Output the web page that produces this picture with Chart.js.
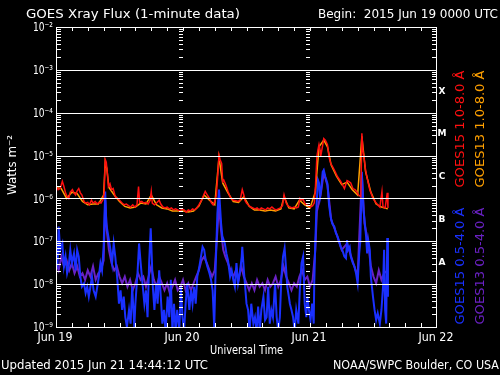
<!DOCTYPE html>
<html>
<head>
<meta charset="utf-8">
<title>GOES Xray Flux</title>
<script src="https://cdn.jsdelivr.net/npm/chart.js@4.4.1/dist/chart.umd.min.js"></script>
<style>
    html, body { margin: 0; padding: 0; background: #000; }
    canvas { display: block; }
</style>
</head>
<body>
<canvas id="xray" width="500" height="375"></canvas>
<script>
/* Flux readings, [hours since 2015 Jun 19 00:00 UTC, W/m^2] */
const goes15Long = [
    [0, 2.0e-6], [0.4, 1.6e-6], [0.8, 1.7e-6], [1.2, 2.5e-6], [1.5, 1.9e-6], [1.8, 1.35e-6], [2.1, 1.1e-6],
    [2.4, 1.0e-6], [2.7, 1.4e-6], [3.1, 1.6e-6], [3.4, 1.35e-6], [3.7, 1.2e-6], [4.0, 1.5e-6], [4.3, 1.7e-6],
    [4.6, 1.35e-6], [4.9, 1.2e-6], [5.3, 8.5e-7], [5.6, 7.8e-7], [6.0, 8.1e-7], [6.3, 7.1e-7], [6.7, 9.1e-7],
    [7.0, 7.8e-7], [7.4, 8.5e-7], [7.8, 7.4e-7], [8.1, 8.1e-7], [8.5, 7.8e-7], [8.9, 9.5e-7], [9.1, 1.4e-6],
    [9.3, 8.1e-6], [9.5, 7.0e-6], [9.7, 3.9e-6], [9.9, 1.9e-6], [10.2, 2.2e-6], [10.5, 1.6e-6], [10.8, 1.7e-6],
    [11.2, 1.1e-6], [11.6, 1.0e-6], [12.0, 9.1e-7], [12.5, 7.8e-7], [12.9, 7.1e-7], [13.3, 7.4e-7], [13.7, 6.8e-7],
    [14.1, 6.3e-7], [14.5, 7.1e-7], [14.9, 6.3e-7], [15.3, 7.1e-7], [15.6, 1.9e-6], [15.8, 8.1e-7], [16.2, 8.5e-7],
    [16.6, 7.8e-7], [17.0, 8.1e-7], [17.4, 7.4e-7], [17.8, 9.1e-7], [18.0, 1.45e-6], [18.2, 7.8e-7], [18.6, 7.1e-7],
    [19.0, 7.8e-7], [19.5, 9.1e-7], [19.8, 7.4e-7], [20.2, 6.3e-7], [20.6, 6.0e-7], [21.0, 6.3e-7], [21.4, 5.7e-7],
    [21.8, 6.0e-7], [22.2, 5.4e-7], [22.6, 5.7e-7], [23.0, 5.4e-7], [23.4, 5.1e-7], [23.8, 5.7e-7], [24.2, 5.4e-7],
    [24.6, 4.8e-7], [25.0, 5.4e-7], [25.4, 5.1e-7], [25.8, 5.7e-7], [26.2, 5.4e-7], [26.6, 6.0e-7], [27.0, 7.1e-7],
    [27.5, 9.1e-7], [28.2, 1.45e-6], [28.6, 1.2e-6], [29.0, 1.0e-6], [29.4, 7.8e-7], [29.7, 7.1e-7], [30.1, 9.1e-7],
    [30.3, 1.2e-6], [30.6, 3.9e-6], [30.8, 1.02e-5], [31.0, 8.1e-6], [31.3, 6.6e-6], [31.5, 2.5e-6], [31.7, 2.7e-6],
    [32.0, 2.2e-6], [32.2, 1.9e-6], [32.5, 1.45e-6], [32.9, 1.1e-6], [33.2, 9.6e-7], [33.5, 9.1e-7], [34.0, 8.8e-7],
    [34.4, 8.5e-7], [34.8, 9.1e-7], [35.2, 1.6e-6], [35.5, 1.2e-6], [35.7, 9.1e-7], [36.0, 7.8e-7], [36.3, 7.1e-7],
    [36.8, 6.3e-7], [37.2, 6.0e-7], [37.6, 5.7e-7], [38.0, 6.0e-7], [38.4, 5.4e-7], [38.8, 6.0e-7], [39.2, 5.7e-7],
    [39.6, 5.4e-7], [40.0, 6.0e-7], [40.4, 5.7e-7], [40.8, 6.3e-7], [41.2, 5.7e-7], [41.6, 5.4e-7], [42.0, 5.7e-7],
    [42.4, 6.0e-7], [42.8, 6.8e-7], [43.1, 1.2e-6], [43.5, 7.8e-7], [43.8, 6.8e-7], [44.2, 6.3e-7], [44.6, 6.0e-7],
    [45.0, 6.3e-7], [45.4, 6.0e-7], [45.8, 6.3e-7], [46.1, 1.0e-6], [46.4, 9.1e-7], [46.7, 9.5e-7], [47.0, 7.8e-7],
    [47.3, 7.1e-7], [47.7, 6.8e-7], [48.1, 6.3e-7], [48.5, 6.8e-7], [48.8, 7.8e-7], [49.0, 1.6e-6], [49.3, 9.3e-6],
    [49.5, 1.35e-5], [49.7, 1.8e-5], [49.9, 1.35e-5], [50.0, 9.3e-6], [50.3, 1.5e-5], [50.6, 2.5e-5], [50.9, 2.3e-5],
    [51.3, 1.8e-5], [51.6, 9.3e-6], [51.9, 6.6e-6], [52.2, 5.7e-6], [52.6, 4.6e-6], [53.2, 3.2e-6], [53.8, 2.5e-6],
    [54.2, 2.0e-6], [54.5, 1.7e-6], [55.0, 2.6e-6], [55.3, 2.5e-6], [55.7, 2.3e-6], [56.1, 1.7e-6], [56.5, 1.6e-6],
    [56.8, 1.45e-6], [57.2, 1.2e-6], [57.6, 1.1e-6], [57.8, 3.3e-5], [58.0, 1.3e-5], [58.2, 9.3e-6], [58.5, 4.6e-6],
    [58.8, 3.0e-6], [59.3, 1.6e-6], [59.9, 1.0e-6], [60.5, 7.8e-7], [61.2, 6.3e-7], [61.6, 1.45e-6], [61.8, 6.3e-7],
    [62.2, 6.0e-7], [62.6, 1.35e-6], [62.73, 6.0e-7],
];

const goes13Long = [
    [0, 1.8e-6], [1, 1.7e-6], [2, 1.0e-6], [3, 1.4e-6], [4, 1.3e-6], [5, 8.5e-7], [6, 7.1e-7], [7, 7.4e-7],
    [8, 7.4e-7], [9, 1.2e-6], [9.3, 7.0e-6], [9.6, 5.0e-6], [10, 1.8e-6], [11, 1.2e-6], [12, 8.5e-7], [13, 6.5e-7],
    [14, 6.0e-7], [15, 6.3e-7], [16, 7.8e-7], [17, 7.4e-7], [18, 1.2e-6], [19, 7.1e-7], [20, 6.0e-7], [21, 5.7e-7],
    [22, 5.1e-7], [23, 5.1e-7], [24, 5.1e-7], [25, 4.8e-7], [26, 5.1e-7], [27, 6.6e-7], [28, 1.2e-6], [29, 9.1e-7],
    [30, 7.1e-7], [30.8, 9.0e-6], [31.5, 2.3e-6], [32.5, 1.35e-6], [33.5, 8.5e-7], [34.5, 8.1e-7], [35.5, 1.1e-6],
    [36.5, 6.6e-7], [37.5, 5.4e-7], [38.5, 5.4e-7], [39.5, 5.1e-7], [40.5, 5.4e-7], [41.5, 5.1e-7], [42.5, 5.7e-7],
    [43.1, 1.1e-6], [44, 6.0e-7], [45, 5.7e-7], [46, 9.1e-7], [47, 7.1e-7], [48, 6.0e-7], [49, 1.4e-6],
    [49.7, 1.6e-5], [50.6, 2.3e-5], [51.3, 1.6e-5], [52, 6.0e-6], [53, 3.3e-6], [54, 2.1e-6], [55, 2.4e-6],
    [56, 1.6e-6], [57, 1.2e-6], [57.8, 2.8e-5], [58.5, 4.2e-6], [59.5, 1.4e-6], [60.5, 7.4e-7], [61.5, 6.3e-7],
    [62.7, 5.7e-7],
];

const goes15Short = [
    [0.0, 4.4e-8], [0.3, 3.1e-8], [0.5, 2.2e-7], [0.8, 6.3e-8], [1.2, 8.9e-8], [1.5, 2.6e-8], [1.8, 4.4e-8],
    [2.1, 1.8e-8], [2.4, 2.6e-8], [2.7, 6.3e-8], [3.0, 3.1e-8], [3.4, 5.2e-8], [3.7, 2.1e-8], [4.0, 6.3e-8],
    [4.3, 4.4e-8], [4.6, 1.5e-8], [4.9, 8.7e-9], [5.3, 1.05e-8], [5.6, 6.2e-9], [5.9, 8.7e-9], [6.2, 5.1e-9],
    [6.5, 8.7e-9], [6.8, 1.5e-8], [7.1, 7.2e-9], [7.5, 5.1e-9], [7.8, 8.7e-9], [8.1, 1.5e-8], [8.4, 3.1e-8],
    [8.7, 2.1e-8], [9.0, 7.4e-8], [9.3, 1.45e-6], [9.5, 2.6e-7], [9.7, 1.8e-7], [10.0, 1.07e-7], [10.3, 6.3e-8],
    [10.6, 3.1e-8], [10.9, 8.9e-8], [11.2, 4.4e-8], [11.6, 1.26e-8], [11.9, 3.5e-9], [12.2, 7.2e-9], [12.5, 2.5e-9],
    [12.8, 5.1e-9], [13.1, 1.7e-9], [13.4, 1.0e-9], [13.8, 2.5e-9], [14.1, 1.2e-9], [14.4, 8.7e-9], [14.8, 1.0e-9],
    [15.0, 3.5e-9], [15.4, 1.8e-8], [15.7, 8.9e-8], [16.0, 3.1e-8], [16.4, 8.7e-9], [16.7, 3.5e-9], [17.0, 7.2e-9],
    [17.3, 1.7e-9], [17.6, 3.1e-8], [17.9, 2.0e-7], [18.3, 8.7e-9], [18.6, 2.5e-9], [18.9, 1.05e-8], [19.2, 3.5e-9],
    [19.5, 2.1e-8], [19.8, 5.1e-9], [20.1, 1.2e-9], [20.4, 2.5e-9], [20.7, 8e-10], [21.1, 5.1e-9], [21.4, 1.7e-9],
    [21.7, 1.26e-8], [22.0, 8e-10], [22.3, 3.5e-9], [22.6, 8e-10], [22.9, 2.5e-9], [23.3, 8e-10], [23.6, 8.7e-9],
    [23.9, 1.7e-9], [24.2, 8e-10], [24.5, 3.5e-9], [24.8, 1.05e-8], [25.2, 2.5e-9], [25.5, 7.2e-9], [25.8, 3.5e-9],
    [26.1, 8.7e-9], [26.4, 3.5e-9], [26.7, 1.5e-8], [27.1, 2.6e-8], [27.4, 4.4e-8], [27.7, 7.4e-8], [28.0, 6.3e-8],
    [28.3, 3.6e-8], [28.6, 2.6e-8], [29.0, 1.8e-8], [29.3, 1.26e-8], [29.6, 7.2e-9], [29.9, 1.0e-9], [30.2, 3.1e-8],
    [30.5, 4.5e-7], [30.8, 1.6e-6], [31.2, 2.6e-7], [31.5, 1.07e-7], [31.6, 1.15e-7], [31.9, 8.9e-8], [32.2, 5.2e-8],
    [32.5, 3.6e-8], [32.9, 1.5e-8], [33.2, 2.1e-8], [33.5, 1.26e-8], [33.8, 8.7e-9], [34.1, 3.1e-8], [34.4, 1.05e-8],
    [34.8, 2.1e-8], [35.1, 4.4e-8], [35.2, 7.4e-8], [35.5, 2.1e-8], [35.8, 7.2e-9], [36.0, 3.5e-9], [36.3, 2.5e-9],
    [36.6, 8e-10], [36.9, 3.5e-9], [37.3, 1.2e-9], [37.6, 1.7e-9], [37.9, 8e-10], [38.2, 3.0e-9], [38.5, 8e-10],
    [38.8, 2.5e-9], [39.2, 5.1e-9], [39.5, 1.45e-9], [39.8, 1.7e-9], [40.1, 8.7e-9], [40.4, 1.2e-9], [40.7, 2.5e-9],
    [41.0, 1.7e-9], [41.4, 1.05e-8], [41.7, 1.7e-9], [42.0, 8e-10], [42.3, 1.7e-9], [42.6, 1.5e-8], [42.9, 4.4e-8],
    [43.2, 6.9e-8], [43.5, 2.1e-8], [43.7, 8.7e-9], [44.0, 5.1e-9], [44.2, 3.5e-9], [44.5, 2.5e-9], [44.8, 1.7e-9],
    [45.1, 8e-10], [45.4, 2.5e-9], [45.8, 1.2e-9], [46.1, 8.7e-9], [46.4, 3.1e-8], [46.7, 4.4e-8], [47.0, 3.5e-9],
    [47.3, 1.7e-9], [47.5, 5.1e-9], [47.8, 2.5e-9], [48.1, 1.45e-9], [48.4, 3.5e-9], [48.7, 1.2e-9], [48.8, 1.05e-8],
    [49.0, 8.9e-8], [49.2, 5.4e-7], [49.5, 2.7e-6], [49.7, 2.3e-6], [49.9, 1.1e-6], [50.1, 1.6e-6], [50.4, 4.2e-6],
    [50.6, 4.6e-6], [50.9, 3.2e-6], [51.3, 2.2e-6], [51.6, 7.1e-7], [51.9, 3.7e-7], [52.2, 2.6e-7], [52.6, 2.2e-7],
    [52.9, 1.55e-7], [53.2, 1.3e-7], [53.5, 9.8e-8], [53.8, 7.4e-8], [54.2, 5.8e-8], [54.5, 4.4e-8], [54.8, 4.0e-8],
    [55.0, 1.07e-7], [55.2, 6.3e-8], [55.5, 7.4e-8], [55.7, 4.4e-8], [56.1, 3.1e-8], [56.4, 2.6e-8], [56.7, 1.8e-8],
    [57.0, 1.05e-8], [57.3, 5.2e-8], [57.5, 9.8e-8], [57.8, 4.2e-6], [58.1, 5.4e-7], [58.3, 3.2e-7], [58.6, 1.3e-7],
    [58.8, 5.2e-8], [59.0, 1.07e-7], [59.3, 6.3e-8], [59.5, 1.5e-8], [59.9, 5.1e-9], [60.2, 2.5e-9], [60.5, 1.45e-9],
    [60.8, 2.1e-9], [61.2, 1.2e-9], [61.5, 2.5e-9], [61.8, 8.7e-9], [62.0, 6.3e-8], [62.2, 2.5e-9], [62.4, 1.2e-9],
    [62.6, 1.2e-7], [62.73, 5.1e-9],
];

const goes13Short = [
    [0, 3.1e-8], [0.5, 2.1e-8], [1, 4.4e-8], [1.5, 2.6e-8], [2, 3.6e-8], [2.5, 2.1e-8], [3, 3.1e-8], [3.5, 1.8e-8],
    [4, 2.6e-8], [4.5, 1.5e-8], [5, 1.8e-8], [5.5, 1.26e-8], [6, 2.1e-8], [6.5, 1.5e-8], [7, 2.6e-8], [7.5, 1.26e-8],
    [8, 1.8e-8], [8.5, 2.1e-8], [9, 3.6e-8], [9.3, 9.1e-7], [9.6, 1.8e-7], [10, 6.3e-8], [10.5, 3.1e-8], [11, 2.1e-8],
    [11.5, 2.6e-8], [12, 1.5e-8], [12.5, 1.05e-8], [13, 1.5e-8], [13.5, 8.7e-9], [14, 1.26e-8], [14.5, 7.2e-9],
    [15, 1.05e-8], [15.5, 1.8e-8], [16, 1.26e-8], [16.5, 1.5e-8], [17, 8.7e-9], [17.5, 1.5e-8], [18, 2.6e-8],
    [18.5, 1.26e-8], [19, 8.7e-9], [19.5, 1.5e-8], [20, 1.05e-8], [20.5, 7.2e-9], [21, 1.05e-8], [21.5, 6.2e-9],
    [22, 8.7e-9], [22.5, 1.26e-8], [23, 7.2e-9], [23.5, 8.7e-9], [24, 1.26e-8], [24.5, 7.2e-9], [25, 1.05e-8],
    [25.5, 7.2e-9], [26, 1.05e-8], [26.5, 1.5e-8], [27, 2.1e-8], [27.5, 3.6e-8], [28, 4.4e-8], [28.5, 3.1e-8],
    [29, 2.1e-8], [29.5, 1.5e-8], [30, 2.1e-8], [30.5, 1.8e-7], [30.8, 7.1e-7], [31.2, 1.8e-7], [31.6, 6.3e-8],
    [32, 4.4e-8], [32.5, 3.1e-8], [33, 2.1e-8], [33.5, 1.5e-8], [34, 2.1e-8], [34.5, 1.26e-8], [35, 2.6e-8],
    [35.5, 1.5e-8], [36, 1.05e-8], [36.5, 7.2e-9], [37, 1.05e-8], [37.5, 7.2e-9], [38, 1.26e-8], [38.5, 8.7e-9],
    [39, 1.05e-8], [39.5, 7.2e-9], [40, 1.26e-8], [40.5, 8.7e-9], [41, 1.05e-8], [41.5, 1.5e-8], [42, 8.7e-9],
    [42.5, 1.26e-8], [43, 2.6e-8], [43.5, 1.5e-8], [44, 1.05e-8], [44.5, 7.2e-9], [45, 1.05e-8], [45.5, 8.7e-9],
    [46, 1.5e-8], [46.5, 2.1e-8], [47, 1.26e-8], [47.5, 1.5e-8], [48, 8.7e-9], [48.5, 1.26e-8], [49, 6.3e-8],
    [49.3, 5.0e-7], [50, 1.2e-6], [50.6, 4.0e-6], [51.3, 2.0e-6], [52, 3.2e-7], [53, 1.5e-7], [54, 6.3e-8],
    [55, 8.9e-8], [56, 3.6e-8], [57, 1.5e-8], [57.8, 3.5e-6], [58.3, 2.6e-7], [59, 8.9e-8], [59.5, 2.6e-8],
    [60, 1.5e-8], [60.5, 1.05e-8], [61, 2.1e-8], [61.5, 1.26e-8], [62, 1.8e-8], [62.7, 2.1e-8],
];

const dayLabels = ["Jun 19", "Jun 20", "Jun 21", "Jun 22"];
const decadeLabels = ["10\u207B\u00B2", "10\u207B\u00B3", "10\u207B\u2074", "10\u207B\u2075",
    "10\u207B\u2076", "10\u207B\u2077", "10\u207B\u2078", "10\u207B\u2079"];
const flareClasses = ["X", "M", "C", "B", "A"];

const COLORS = {
    red: "#ff1010",
    orange: "#ffa000",
    blue: "#1a30ff",
    purple: "#6a22c4",
    white: "#ffffff",
};
const FONT = '"DejaVu Sans", sans-serif';

function toPoints(pairs) {
    return pairs.map(([x, y]) => ({ x, y }));
}

/* draw text squeezed or stretched horizontally to a given width */
function fitText(ctx, txt, x, y, w, align) {
    const m = ctx.measureText(txt).width;
    ctx.save();
    ctx.translate(x, y);
    ctx.scale(w / m, 1);
    ctx.textAlign = align;
    ctx.fillText(txt, 0, 0);
    ctx.restore();
}

function rotText(ctx, txt, cx, cy, len, color) {
    ctx.save();
    ctx.translate(cx, cy);
    ctx.rotate(-Math.PI / 2);
    ctx.fillStyle = color;
    ctx.textBaseline = "middle";
    fitText(ctx, txt, 0, 0, len, "center");
    ctx.restore();
}

const gridPlugin = {
    id: "goesGrid",
    afterDatasetsDraw(chart) {
        const { ctx, chartArea: a, scales: { y } } = chart;
        ctx.save();
        ctx.strokeStyle = COLORS.white;
        ctx.lineWidth = 1;
        for (let e = -8; e <= -3; e++) {
            const py = Math.round(y.getPixelForValue(Math.pow(10, e))) + 0.5;
            ctx.beginPath();
            ctx.moveTo(a.left, py);
            ctx.lineTo(a.right, py);
            ctx.stroke();
        }
        ctx.restore();
    },
    afterDraw(chart) {
        const { ctx, chartArea: a, scales: { x, y } } = chart;
        ctx.save();
        ctx.strokeStyle = COLORS.white;
        ctx.lineWidth = 1;

        /* frame */
        ctx.strokeRect(a.left + 0.5, a.top + 0.5, a.right - a.left - 1, a.bottom - a.top);

        /* log ticks on both sides and on the day boundaries */
        ctx.beginPath();
        for (let e = -9; e < -2; e++) {
            for (let m = 2; m <= 9; m++) {
                const py = Math.round(y.getPixelForValue(m * Math.pow(10, e))) + 0.5;
                ctx.moveTo(a.left, py); ctx.lineTo(a.left + 5, py);
                ctx.moveTo(a.right, py); ctx.lineTo(a.right - 5, py);
                [24, 48].forEach(h => {
                    const px = Math.round(x.getPixelForValue(h));
                    ctx.moveTo(px, py); ctx.lineTo(px - 4, py);
                });
            }
        }
        /* 3-hour ticks top and bottom */
        for (let h = 3; h < 72; h += 3) {
            const px = Math.round(x.getPixelForValue(h)) + 0.5;
            ctx.moveTo(px, a.top); ctx.lineTo(px, a.top + 4);
            ctx.moveTo(px, a.bottom); ctx.lineTo(px, a.bottom - 4);
        }
        ctx.stroke();

        ctx.fillStyle = COLORS.white;
        ctx.textBaseline = "alphabetic";

        /* header and footer */
        ctx.font = "12px " + FONT;
        fitText(ctx, "GOES Xray Flux (1-minute data)", 26, 18, 214, "left");
        fitText(ctx, "Begin:  2015 Jun 19 0000 UTC", 318, 18, 180, "left");
        fitText(ctx, "Universal Time", 210, 354, 73, "left");
        fitText(ctx, "Updated 2015 Jun 21 14:44:12 UTC", 1, 369, 207, "left");
        fitText(ctx, "NOAA/SWPC Boulder, CO USA", 499, 369, 166, "right");

        /* day labels */
        dayLabels.forEach((lbl, i) => {
            fitText(ctx, lbl, x.getPixelForValue(i * 24) - 1, 341, 35, "center");
        });

        /* decade labels */
        ctx.textBaseline = "middle";
        decadeLabels.forEach((lbl, i) => {
            const py = y.getPixelForValue(Math.pow(10, -2 - i));
            fitText(ctx, lbl, 53, py + 1, 20, "right");
        });

        /* flare class letters between decades */
        ctx.font = "bold 9px " + FONT;
        flareClasses.forEach((c, i) => {
            const py = y.getPixelForValue(Math.pow(10, -3.5 - i));
            ctx.textAlign = "center";
            ctx.fillText(c, a.right + 5, py);
        });

        /* y axis title */
        ctx.font = "12px " + FONT;
        rotText(ctx, "Watts m\u207B\u00B2", 13, 165, 60, COLORS.white);

        /* vertical legend */
        rotText(ctx, "GOES15 1.0-8.0 \u00C5", 461, 129, 117, COLORS.red);
        rotText(ctx, "GOES13 1.0-8.0 \u00C5", 481, 129, 117, COLORS.orange);
        rotText(ctx, "GOES15 0.5-4.0 \u00C5", 461, 266, 117, COLORS.blue);
        rotText(ctx, "GOES13 0.5-4.0 \u00C5", 481, 266, 117, COLORS.purple);

        ctx.restore();
    },
};

function series(pairs, color, width) {
    return {
        data: toPoints(pairs),
        borderColor: color,
        borderWidth: width,
        pointRadius: 0,
        tension: 0,
        fill: false,
    };
}

new Chart(document.getElementById("xray"), {
    type: "line",
    data: {
        /* first dataset is drawn on top */
        datasets: [
            series(goes15Long, COLORS.red, 1.5),
            series(goes13Long, COLORS.orange, 1.5),
            series(goes15Short, COLORS.blue, 2),
            series(goes13Short, COLORS.purple, 2),
        ],
    },
    options: {
        responsive: false,
        animation: false,
        layout: { padding: { left: 56, right: 63, top: 27, bottom: 48 } },
        scales: {
            x: { type: "linear", min: 0, max: 72, display: false },
            y: { type: "logarithmic", min: 1e-9, max: 1e-2, display: false },
        },
        plugins: {
            legend: { display: false },
            tooltip: { enabled: false },
        },
    },
    plugins: [gridPlugin],
});
</script>
</body>
</html>
